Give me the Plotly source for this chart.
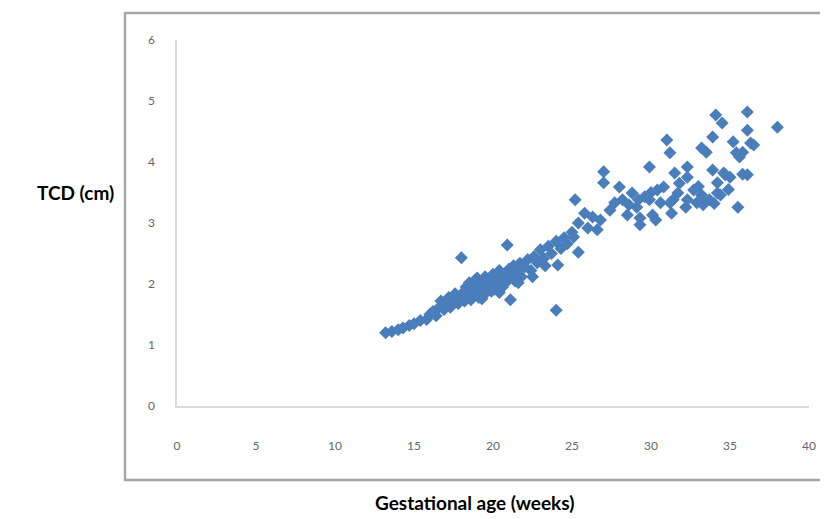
import plotly.graph_objects as go

# ---- data ----
gest_age_weeks = [
    13.2, 13.6, 14.0, 14.3, 14.7, 15.0, 15.4, 15.8, 16.0, 16.2, 16.4, 16.6, 16.7, 16.9,
    17.0, 17.2, 17.3, 17.5, 17.6, 17.8, 17.9, 18.0, 18.1, 18.2, 18.3, 18.4, 18.5, 18.6,
    18.7, 18.8, 18.9, 19.0, 19.0, 19.1, 19.2, 19.3, 19.4, 19.5, 19.5, 19.6, 19.7, 19.8,
    19.9, 20.0, 20.0, 20.1, 20.2, 20.3, 20.4, 20.5, 20.6, 20.7, 20.8, 20.9, 21.0, 21.0,
    21.1, 21.2, 21.3, 21.4, 21.5, 21.7, 21.8, 22.0, 22.2, 22.4, 22.6, 22.8, 23.0, 23.2,
    23.5, 23.7, 24.0, 24.0, 24.1, 24.3, 24.5, 24.7, 25.0, 25.1, 25.2, 25.4, 25.4, 25.8,
    26.0, 26.3, 26.6, 26.8, 27.0, 27.0, 27.4, 27.7, 28.0, 28.2, 28.5, 28.8, 29.1, 29.2,
    29.3, 29.3, 29.6, 29.9, 29.9, 30.1, 30.3, 30.4, 30.6, 30.8, 31.0, 31.2, 31.2, 31.3,
    31.4, 31.5, 31.7, 32.2, 32.3, 32.3, 32.3, 32.7, 32.9, 33.2, 33.2, 33.3, 33.5, 33.7,
    33.9, 33.9, 34.1, 34.2, 34.2, 34.4, 34.5, 34.6, 34.7, 35.0, 35.2, 35.4, 35.5, 35.6,
    35.8, 36.1, 36.1, 36.1, 36.3, 36.5, 38.0,
    19.3, 20.4, 21.6, 22.5, 23.3, 28.6, 30.0, 31.8, 33.0, 34.0, 34.9, 35.8,
]
tcd_cm = [
    1.20, 1.22, 1.25, 1.28, 1.32, 1.35, 1.40, 1.42, 1.50, 1.55, 1.48, 1.62, 1.72, 1.58,
    1.68, 1.78, 1.62, 1.72, 1.84, 1.68, 1.78, 2.43, 1.86, 1.72, 1.95, 1.80, 2.02, 1.74,
    1.90, 2.05, 1.82, 1.96, 2.10, 1.78, 1.88, 2.04, 1.92, 2.12, 1.84, 2.00, 1.94, 2.08,
    1.88, 2.16, 2.00, 1.92, 2.10, 1.98, 2.22, 2.05, 1.95, 2.15, 2.02, 2.64, 2.24, 2.08,
    1.74, 2.16, 2.30, 2.05, 2.20, 2.34, 2.12, 2.28, 2.40, 2.22, 2.45, 2.35, 2.56, 2.42,
    2.62, 2.50, 1.57, 2.70, 2.31, 2.58, 2.76, 2.66, 2.85, 2.77, 3.38, 2.52, 3.00, 3.16,
    2.92, 3.10, 2.89, 3.05, 3.84, 3.66, 3.21, 3.33, 3.59, 3.38, 3.13, 3.49, 3.26, 3.38,
    2.97, 3.08, 3.43, 3.92, 3.38, 3.13, 3.05, 3.54, 3.33, 3.59, 4.36, 4.15, 3.33, 3.16,
    3.38, 3.82, 3.49, 3.26, 3.75, 3.92, 3.38, 3.54, 3.33, 4.23, 3.46, 3.30, 4.16, 3.38,
    4.41, 3.87, 4.77, 3.66, 3.49, 3.46, 4.64, 3.82, 3.79, 3.75, 4.33, 4.15, 3.26, 4.08,
    4.16, 4.82, 4.52, 3.79, 4.31, 4.28, 4.57,
    1.76, 1.86, 2.02, 2.12, 2.30, 3.30, 3.50, 3.65, 3.60, 3.32, 3.55, 3.80,
]
x_ticks = [0, 5, 10, 15, 20, 25, 30, 35, 40]
y_ticks = [0, 1, 2, 3, 4, 5, 6]
x_title = "Gestational age (weeks)"
y_title = "TCD (cm)"

# ---- layout geometry (window pixels; the page body adds an 8px margin) ----
OFF = 8
W, H = 828 - OFF, 519 - OFF
L, R, T, B = 177 - OFF, 809 - OFF, 40 - OFF, 406 - OFF  # plot area edges


def px_x(p):
    return (p - OFF - L) / (R - L)


def px_y(p):
    return (B - (p - OFF)) / (B - T)


fig = go.Figure()
fig.add_trace(go.Scatter(
    x=gest_age_weeks, y=tcd_cm, mode="markers",
    marker=dict(symbol="diamond", size=10, color="#4a7ebb", line=dict(width=0)),
    showlegend=False, hoverinfo="x+y",
))

tick_font = dict(family="Lato, 'Open Sans', sans-serif", size=12, color="#666666")
fig.update_xaxes(
    range=[0, 40], tickvals=x_ticks, showgrid=False, zeroline=False,
    showline=True, linecolor="#d9d9d9", linewidth=1.5, ticks="",
    tickfont=tick_font, ticklabelstandoff=28,
)
fig.update_yaxes(
    range=[0, 6], tickvals=y_ticks, showgrid=False, zeroline=False,
    showline=True, linecolor="#d9d9d9", linewidth=1.5, ticks="",
    tickfont=tick_font, ticklabelstandoff=18,
)

title_font = dict(family="Lato, 'Open Sans', sans-serif", size=19, color="#000000")
fig.update_layout(
    width=W, height=H,
    margin=dict(l=L, r=W - R, t=T, b=H - B, pad=0),
    paper_bgcolor="white", plot_bgcolor="white",
    shapes=[dict(
        type="rect", xref="paper", yref="paper",
        x0=px_x(125), x1=px_x(835), y0=px_y(480), y1=px_y(13),
        line=dict(color="#a6a6a6", width=2.5), fillcolor="rgba(0,0,0,0)", layer="below",
    )],
    annotations=[
        dict(text="<b>%s</b>" % y_title, xref="paper", yref="paper",
             x=px_x(75), y=px_y(192), showarrow=False, font=title_font,
             xanchor="center", yanchor="middle"),
        dict(text="<b>%s</b>" % x_title, xref="paper", yref="paper",
             x=px_x(474), y=px_y(502), showarrow=False, font=title_font,
             xanchor="center", yanchor="middle"),
    ],
)

fig.write_html("out.html")
